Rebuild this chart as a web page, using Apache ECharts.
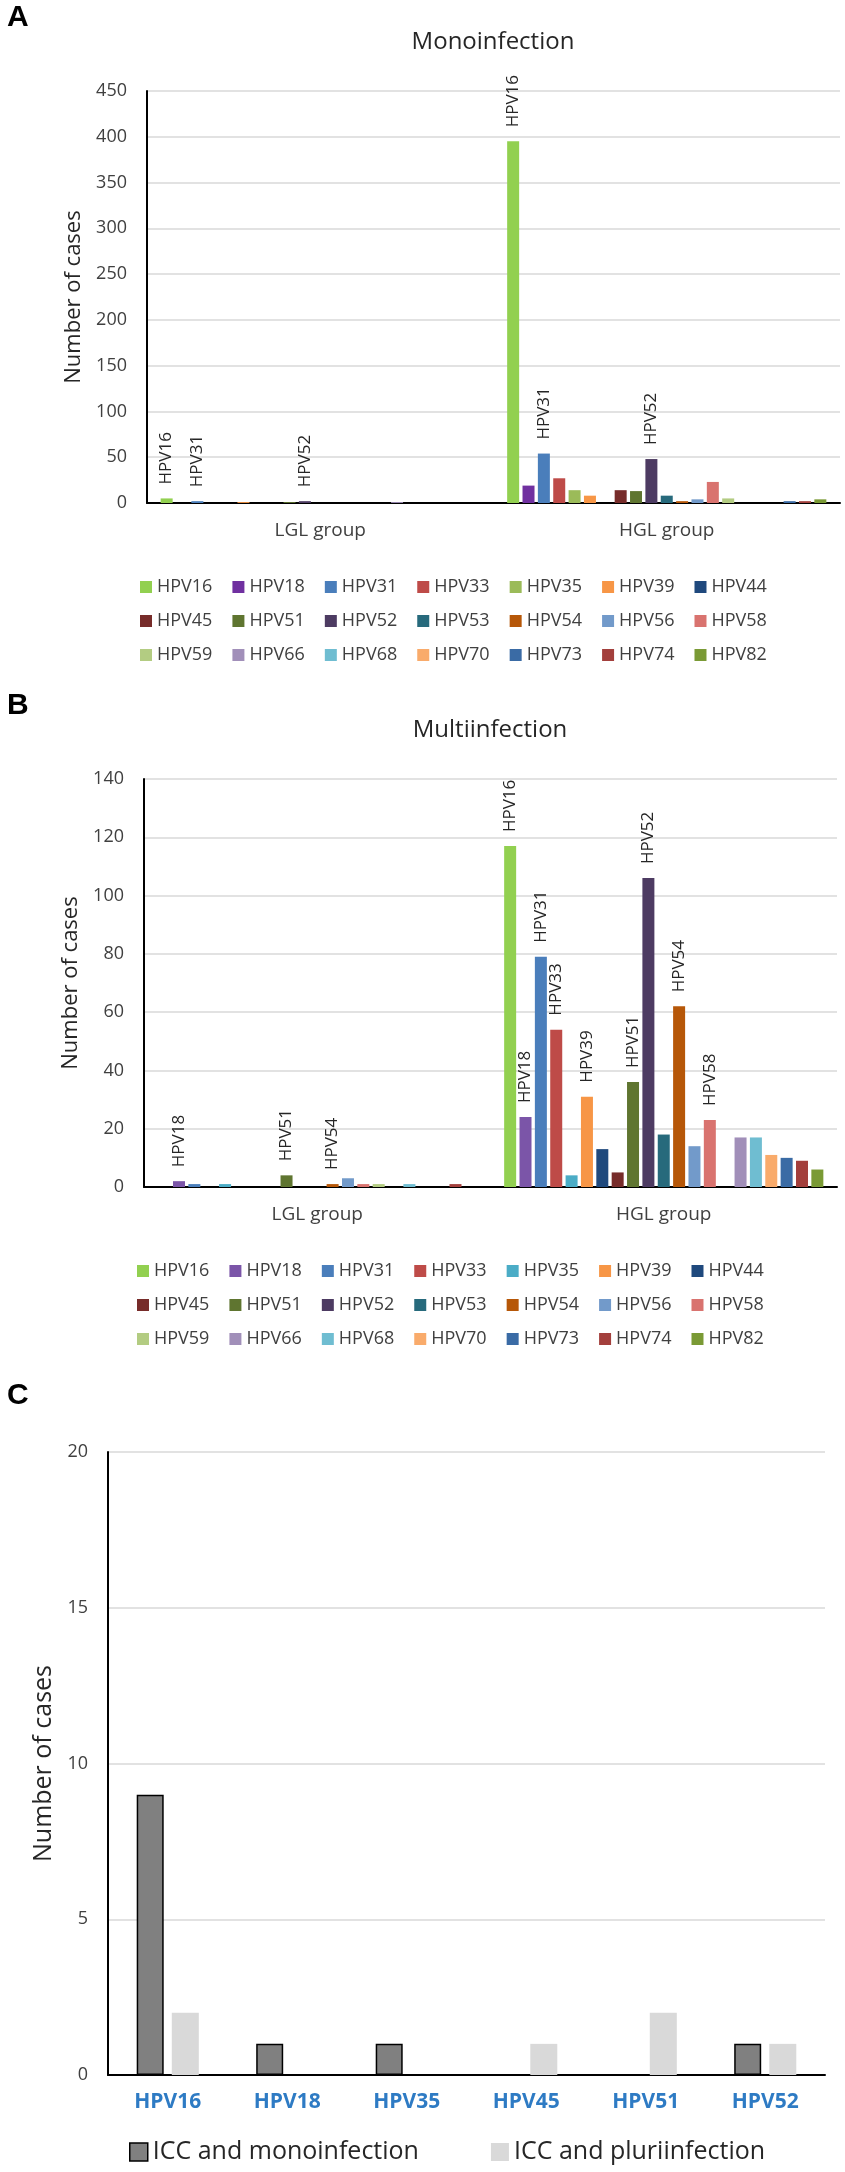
<!DOCTYPE html>
<html>
<head>
<meta charset="utf-8">
<script src="https://cdn.jsdelivr.net/npm/echarts@6/dist/echarts.min.js"></script>
<style>
  html, body { margin: 0; padding: 0; background: #fff; }
  #app { width: 845px; height: 2172px; }
</style>
</head>
<body>
<div id="app"></div>
<script>
// HPV types (one series per type) and the two groups on the x axis
const hpvTypes = ['HPV16', 'HPV18', 'HPV31', 'HPV33', 'HPV35', 'HPV39', 'HPV44',
  'HPV45', 'HPV51', 'HPV52', 'HPV53', 'HPV54', 'HPV56', 'HPV58',
  'HPV59', 'HPV66', 'HPV68', 'HPV70', 'HPV73', 'HPV74', 'HPV82'];
const groupNames = ['LGL group', 'HGL group'];

// A - monoinfection
const monoLGL = [5, 0, 2, 0, 0, 1, 0, 0, 1, 2, 0, 0, 0, 0, 0, 1, 0, 0, 0, 0, 0];
const monoHGL = [395, 19, 54, 27, 14, 8, 0, 14, 13, 48, 8, 2, 4, 23, 5, 0, 0, 0, 2, 2, 4];
const monoLabelsLGL = ['HPV16', 'HPV31', 'HPV52'];
const monoLabelsHGL = ['HPV16', 'HPV31', 'HPV52'];

// B - multiinfection
const multiLGL = [0, 2, 1, 0, 1, 0, 0, 0, 4, 0, 0, 1, 3, 1, 1, 0, 1, 0, 0, 1, 0];
const multiHGL = [117, 24, 79, 54, 4, 31, 13, 5, 36, 106, 18, 62, 14, 23, 0, 17, 17, 11, 10, 9, 6];
const multiLabelsLGL = ['HPV18', 'HPV51', 'HPV54'];
const multiLabelsHGL = ['HPV16', 'HPV18', 'HPV31', 'HPV33', 'HPV39', 'HPV51', 'HPV52', 'HPV54', 'HPV58'];

// C - ICC
const iccTypes = ['HPV16', 'HPV18', 'HPV35', 'HPV45', 'HPV51', 'HPV52'];
const iccMono = [9, 1, 1, 0, 0, 1];
const iccPluri = [2, 0, 0, 1, 2, 1];
const iccNames = ['ICC and monoinfection', 'ICC and pluriinfection'];

// axis ranges
const monoAxis = { min: 0, max: 450, interval: 50 };
const multiAxis = { min: 0, max: 140, interval: 20 };
const iccAxis = { min: 0, max: 20, interval: 5 };

const monoColors = ['#92D050', '#7030A0', '#4A7EBB', '#BE4B48', '#9BBB59', '#F79646', '#1F497D',
  '#772C2A', '#5F7530', '#4D3B62', '#276A7C', '#B65708', '#729ACA', '#D9736F',
  '#B3CC82', '#A18FB9', '#6FBDD1', '#F9AB6B', '#3A6BA5', '#A33F3C', '#7A9A35'];
const multiColors = monoColors.slice();
multiColors[1] = '#7B55A8';
multiColors[4] = '#4BACC6';

const FONT = "'Open Sans', 'DejaVu Sans', sans-serif";
const TXT = '#404040';

(function () {
  let dom = document.getElementById('app');
  let myChart = echarts.init(dom, null, { renderer: 'canvas' });

  function barSeries(colors, lgl, hgl, lglLabels, hglLabels, idx) {
    return hpvTypes.map(function (name, i) {
      function item(v, list) {
        return list.indexOf(name) >= 0 ? { value: v, label: { show: true } } : v;
      }
      return {
        name: name,
        type: 'bar',
        xAxisIndex: idx,
        yAxisIndex: idx,
        barWidth: 12,
        barGap: '28%',
        itemStyle: { color: colors[i] },
        label: {
          show: false,
          position: 'top',
          distance: 14,
          rotate: 90,
          align: 'left',
          verticalAlign: 'middle',
          formatter: '{a}',
          fontSize: 17,
          fontFamily: FONT,
          color: '#262626'
        },
        data: [item(lgl[i], lglLabels), item(hgl[i], hglLabels)]
      };
    });
  }

  function legendRows(colors, tops, left) {
    let rows = [];
    for (let r = 0; r < 3; r++) {
      let names = hpvTypes.slice(r * 7, r * 7 + 7);
      rows.push({
        top: tops[r],
        left: left,
        padding: 0,
        selectedMode: false,
        icon: 'rect',
        itemWidth: 12,
        itemHeight: 12,
        itemGap: 20,
        textStyle: { fontSize: 18, color: TXT, fontFamily: FONT, lineHeight: 20 },
        data: names.map(function (n, k) {
          return { name: n, itemStyle: { color: colors[r * 7 + k], borderWidth: 0 } };
        })
      });
    }
    return rows;
  }

  function valueAxis(idx, range, nameGap, nameSize) {
    return {
      type: 'value',
      gridIndex: idx,
      min: range.min,
      max: range.max,
      interval: range.interval,
      name: 'Number of cases',
      nameLocation: 'middle',
      nameGap: nameGap,
      nameTextStyle: { fontSize: nameSize, color: '#262626', fontFamily: FONT },
      axisLine: { show: true, lineStyle: { color: '#000', width: 2 } },
      axisTick: { show: false },
      axisLabel: { fontSize: 18, color: TXT, fontFamily: FONT, margin: 20 },
      splitLine: { lineStyle: { color: '#D9D9D9', width: 1.5 } }
    };
  }

  function catAxis(idx, cats, labelStyle, margin) {
    return {
      type: 'category',
      gridIndex: idx,
      data: cats,
      axisLine: { lineStyle: { color: '#000', width: 2 } },
      axisTick: { show: false },
      axisLabel: Object.assign({ margin: margin, fontFamily: FONT }, labelStyle)
    };
  }

  let series = []
    .concat(barSeries(monoColors, monoLGL, monoHGL, monoLabelsLGL, monoLabelsHGL, 0))
    .concat(barSeries(multiColors, multiLGL, multiHGL, multiLabelsLGL, multiLabelsHGL, 1));

  series.push({
    name: iccNames[0],
    type: 'bar',
    xAxisIndex: 2,
    yAxisIndex: 2,
    barWidth: 27,
    barGap: '30%',
    itemStyle: { color: '#808080', borderColor: '#000', borderWidth: 1.5 },
    data: iccMono
  });
  series.push({
    name: iccNames[1],
    type: 'bar',
    xAxisIndex: 2,
    yAxisIndex: 2,
    barWidth: 27,
    barGap: '30%',
    itemStyle: { color: '#D9D9D9' },
    data: iccPluri
  });

  let letterStyle = { fontSize: 30, fontWeight: 'bold', color: '#000', fontFamily: "'Liberation Sans', Arial, sans-serif" };
  let titleStyle = { fontSize: 24, fontWeight: 'normal', color: '#262626', fontFamily: FONT };

  let option = {
    animation: false,
    backgroundColor: '#fff',
    title: [
      { text: 'A', left: 7, top: 3, padding: 0, textStyle: letterStyle },
      { text: 'Monoinfection', left: 493, top: 30, padding: 0, textAlign: 'center', textStyle: titleStyle },
      { text: 'B', left: 7, top: 691, padding: 0, textStyle: letterStyle },
      { text: 'Multiinfection', left: 490, top: 718, padding: 0, textAlign: 'center', textStyle: titleStyle },
      { text: 'C', left: 7, top: 1381, padding: 0, textStyle: letterStyle }
    ],
    grid: [
      { left: 147, top: 91, width: 693, height: 412 },
      { left: 144, top: 779, width: 693, height: 408 },
      { left: 108, top: 1452, width: 717, height: 623 }
    ],
    xAxis: [
      catAxis(0, groupNames, { fontSize: 19, color: TXT }, 18),
      catAxis(1, groupNames, { fontSize: 19, color: TXT }, 18),
      catAxis(2, iccTypes, { fontSize: 21, color: '#2E7BC4', fontWeight: 'bold' }, 17)
    ],
    yAxis: [
      valueAxis(0, monoAxis, 62, 22),
      valueAxis(1, multiAxis, 62, 22),
      valueAxis(2, iccAxis, 50, 25)
    ],
    legend: []
      .concat(legendRows(monoColors, [577, 611, 645], 140))
      .concat(legendRows(multiColors, [1261, 1295, 1329], 137))
      .concat([{
        top: 2138,
        left: 129,
        padding: 0,
        selectedMode: false,
        itemWidth: 18,
        itemHeight: 18,
        itemGap: 72,
        textStyle: { fontSize: 25, color: '#262626', fontFamily: FONT, lineHeight: 28 },
        data: [
          { name: iccNames[0], icon: 'rect', itemStyle: { color: '#808080', borderColor: '#000', borderWidth: 1.5 } },
          { name: iccNames[1], icon: 'rect', itemStyle: { color: '#D9D9D9', borderWidth: 0 } }
        ]
      }]),
    series: series
  };
  myChart.setOption(option);
})();
</script>
</body>
</html>
